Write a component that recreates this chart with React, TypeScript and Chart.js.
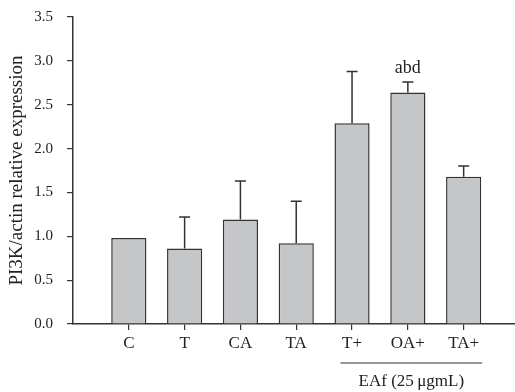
import React, { useEffect, useRef } from "react";
import { Chart, registerables } from "chart.js";

Chart.register(...registerables);

const categories = ["C", "T", "CA", "TA", "T+", "OA+", "TA+"];
const means = [0.98, 0.86, 1.19, 0.92, 2.29, 2.64, 1.68];
const errorTops = [0.98, 1.22, 1.63, 1.4, 2.88, 2.76, 1.8];
const annotations = ["", "", "", "", "", "abd", ""];
const groupLabel = "EAf (25\u2009\u03bcgmL)";
const groupStart = 4;
const groupEnd = 6;
const yTicks = [0, 0.5, 1, 1.5, 2, 2.5, 3, 3.5];

const FONT = "'Liberation Serif', 'DejaVu Serif', serif";
const INK = "#333333";

const extrasPlugin = {
  id: "extras",
  afterDatasetsDraw(chart: any) {
    const { ctx, scales } = chart;
    const x = scales.x;
    const y = scales.y;
    const meta = chart.getDatasetMeta(0);
    ctx.save();
    ctx.strokeStyle = INK;
    ctx.lineWidth = 1.5;
    means.forEach((m, i) => {
      const top = errorTops[i];
      if (top <= m) return;
      const cx = x.getPixelForValue(i);
      const y0 = y.getPixelForValue(m);
      const y1 = y.getPixelForValue(top);
      ctx.beginPath();
      ctx.moveTo(cx, y0);
      ctx.lineTo(cx, y1);
      ctx.moveTo(cx - 5.5, y1);
      ctx.lineTo(cx + 5.5, y1);
      ctx.stroke();
    });
    ctx.fillStyle = "#222";
    ctx.font = `18px ${FONT}`;
    ctx.textAlign = "center";
    ctx.textBaseline = "bottom";
    annotations.forEach((a, i) => {
      if (!a) return;
      const cx = x.getPixelForValue(i);
      const yy = y.getPixelForValue(errorTops[i]);
      ctx.fillText(a, cx, yy - 5);
    });
    // group bracket
    const bw = meta.data[groupStart].width;
    const xa = x.getPixelForValue(groupStart) - bw / 2 + 6;
    const xb = x.getPixelForValue(groupEnd) + bw / 2 + 1;
    const lineY = y.bottom + 39;
    ctx.lineWidth = 1.2;
    ctx.beginPath();
    ctx.moveTo(xa, lineY);
    ctx.lineTo(xb, lineY);
    ctx.stroke();
    ctx.font = `17px ${FONT}`;
    ctx.textBaseline = "middle";
    ctx.fillText(groupLabel, (xa + xb) / 2, lineY + 19);
    ctx.restore();
  },
};

export default function App() {
  const ref = useRef<HTMLCanvasElement>(null);
  useEffect(() => {
    const chart = new Chart(ref.current!, {
      type: "bar",
      data: {
        datasets: [
          {
            data: means.map((v, i) => ({ x: i, y: v })),
            backgroundColor: "#c5c6c8",
            borderColor: INK,
            borderWidth: 1.5,
            barPercentage: 0.63,
            categoryPercentage: 1,
          },
        ],
      },
      options: {
        animation: false,
        responsive: false,
        maintainAspectRatio: false,
        layout: { padding: { top: 17, right: 0, left: 0, bottom: 0 } },
        plugins: { legend: { display: false }, tooltip: { enabled: false } },
        scales: {
          x: {
            type: "linear",
            offset: false,
            min: -1,
            max: 6.92,
            afterBuildTicks: (scale: any) => {
              scale.ticks = categories.map((_, i) => ({ value: i }));
            },
            afterFit: (scale: any) => {
              scale.height = 68;
              scale.paddingLeft = 0;
              scale.paddingRight = 0;
            },
            ticks: {
              callback: (v: any) => categories[v] ?? "",
              color: "#222",
              font: { family: FONT, size: 17 },
              padding: 3,
              maxRotation: 0,
              autoSkip: false,
            },
            grid: {
              offset: false,
              drawOnChartArea: false,
              drawTicks: true,
              tickLength: 6,
              color: INK,
              lineWidth: 1.2,
            },
            border: { display: true, color: INK, width: 1.5 },
          },
          y: {
            min: 0,
            max: 3.5,
            afterBuildTicks: (scale: any) => {
              scale.ticks = yTicks.map((v) => ({ value: v }));
            },
            afterFit: (scale: any) => {
              scale.width = 73;
              scale.paddingTop = 0;
              scale.paddingBottom = 0;
            },
            ticks: {
              callback: (v: any) => Number(v).toFixed(1),
              color: "#222",
              font: { family: FONT, size: 15 },
              padding: 14,
            },
            grid: {
              drawOnChartArea: false,
              drawTicks: true,
              tickLength: 6,
              color: INK,
              lineWidth: 1.2,
            },
            border: { display: true, color: INK, width: 1.5 },
            title: {
              display: true,
              text: "PI3K/actin relative expression",
              color: "#222",
              font: { family: FONT, size: 19 },
              padding: { top: 6, bottom: 0 },
            },
          },
        },
      },
      plugins: [extrasPlugin],
    });
    return () => chart.destroy();
  }, []);
  return (
    <div style={{ position: "fixed", left: 0, top: 0, width: 515, height: 392, background: "#fff" }}>
      <canvas ref={ref} width={515} height={392} />
    </div>
  );
}
